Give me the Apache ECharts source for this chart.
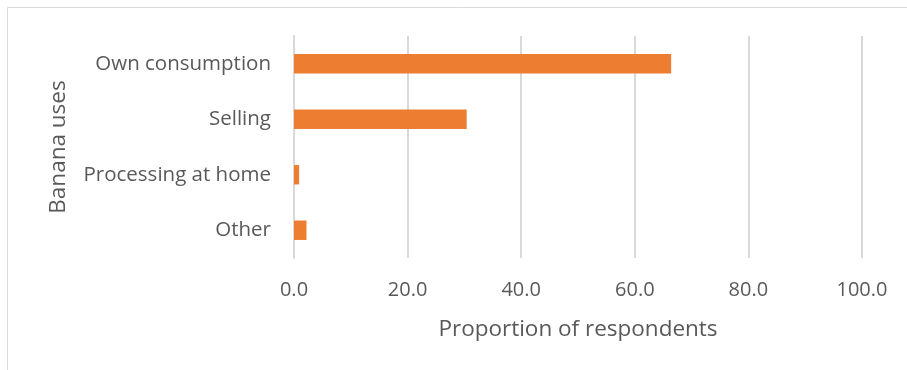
<!DOCTYPE html>
<html><head><meta charset="utf-8">
<script src="https://cdn.jsdelivr.net/npm/echarts@6/dist/echarts.min.js"></script>
<style>html,body{margin:0;padding:0;background:#fff}#c{width:907px;height:370px}</style>
</head><body><div id="c"></div>
<script>
const categories = ['Own consumption', 'Selling', 'Processing at home', 'Other'];
const values = [66.4, 30.4, 0.9, 2.2];
const xTicks = [0, 20, 40, 60, 80, 100];

const FONT = 'Open Sans';
const chart = echarts.init(document.getElementById('c'), null, {renderer: 'canvas'});
chart.setOption({
  animation: false,
  backgroundColor: '#fff',
  graphic: [{
    type: 'rect', shape: {x: 7.5, y: 7.5, width: 920, height: 400},
    style: {fill: 'none', stroke: '#d9d9d9', lineWidth: 1}, silent: true
  }],
  grid: {left: 294, right: 45, top: 36, bottom: 112, containLabel: false},
  xAxis: {
    type: 'value', min: 0, max: 100, interval: 20,
    axisLine: {show: false}, axisTick: {show: false},
    splitLine: {show: true, lineStyle: {color: '#d9d9d9', width: 2}},
    axisLabel: {color: '#595959', fontSize: 20, fontFamily: FONT, margin: 22,
      formatter: v => xTicks.includes(v) ? v.toFixed(1) : ''},
    name: 'Proportion of respondents', nameLocation: 'middle', nameGap: 60,
    nameTextStyle: {color: '#595959', fontSize: 22.5, fontFamily: FONT}
  },
  yAxis: {
    type: 'category', data: categories, inverse: true,
    axisLine: {show: true, lineStyle: {color: '#d9d9d9', width: 2}},
    axisTick: {show: false},
    axisLabel: {color: '#595959', fontSize: 20.5, fontFamily: FONT, margin: 23},
    name: 'Banana uses', nameLocation: 'middle', nameGap: 224, nameRotate: 90,
    nameTextStyle: {color: '#595959', fontSize: 22.5, fontFamily: FONT}
  },
  series: [{
    type: 'bar', data: values, barWidth: '35%',
    itemStyle: {color: '#ED7D31'}
  }]
});
</script></body></html>
